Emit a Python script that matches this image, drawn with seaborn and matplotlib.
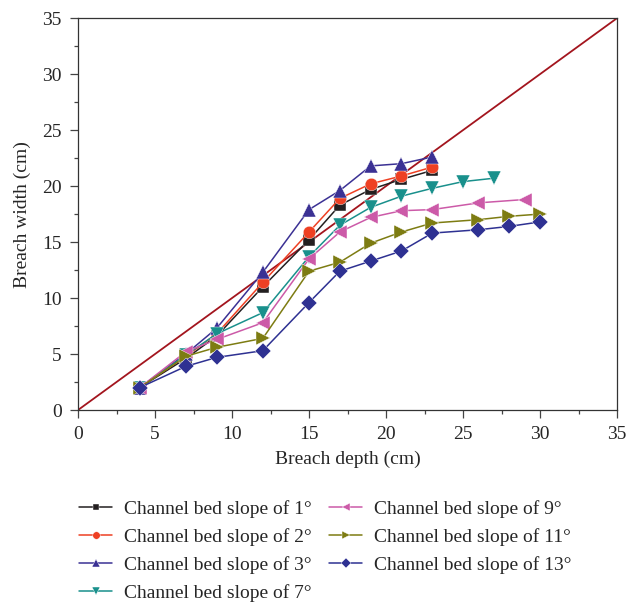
import seaborn as sns
import numpy as np
import pandas as pd
import matplotlib.pyplot as plt
from matplotlib.ticker import MultipleLocator

# Breach width vs breach depth for different channel bed slopes
depth_short = [4, 7, 9, 12, 15, 17, 19, 21, 23]
depth_7 = [4, 7, 9, 12, 15, 17, 19, 21, 23, 25, 27]
depth_9 = [4, 7, 9, 12, 15, 17, 19, 21, 23, 26, 29]
depth_long = [4, 7, 9, 12, 15, 17, 19, 21, 23, 26, 28, 30]

width_1 = [2.0, 4.6, 6.6, 11.0, 15.2, 18.3, 19.7, 20.6, 21.4]
width_2 = [2.0, 4.8, 6.8, 11.4, 15.9, 18.9, 20.2, 20.9, 21.7]
width_3 = [2.0, 5.0, 7.3, 12.3, 17.9, 19.6, 21.8, 22.0, 22.6]
width_7 = [2.0, 4.9, 6.8, 8.7, 13.7, 16.5, 18.1, 19.1, 19.8, 20.4, 20.7]
width_9 = [2.0, 5.2, 6.3, 7.8, 13.5, 15.9, 17.2, 17.8, 17.9, 18.5, 18.8]
width_11 = [2.0, 4.8, 5.6, 6.4, 12.4, 13.2, 14.9, 15.9, 16.7, 17.0, 17.3, 17.5]
width_13 = [2.0, 3.9, 4.7, 5.3, 9.6, 12.4, 13.3, 14.2, 15.8, 16.1, 16.4, 16.8]

labels = ['Channel bed slope of 1°', 'Channel bed slope of 2°', 'Channel bed slope of 3°',
          'Channel bed slope of 7°', 'Channel bed slope of 9°', 'Channel bed slope of 11°',
          'Channel bed slope of 13°']
colors = ['#231f20', '#ee4023', '#3b3194', '#19908c', '#cc5aa8', '#7d7c12', '#2e3192']
markers = ['s', 'o', '^', 'v', '<', '>', 'D']
msizes = [8, 9, 10.5, 10.5, 10.5, 10.5, 8.5]

depths = [depth_short, depth_short, depth_short, depth_7, depth_9, depth_long, depth_long]
widths = [width_1, width_2, width_3, width_7, width_9, width_11, width_13]

sns.set_style('ticks')
plt.rcParams['font.family'] = ['Liberation Serif', 'DejaVu Serif']

fig = plt.figure(figsize=(6.31, 6.03), dpi=100)
ax = fig.add_axes([0.1236, 0.320, 0.8544, 0.650])

# reference line y = x
ax.plot([0, 35], [0, 35], color='#a3151e', lw=1.3, zorder=1)

for d, w, lab, c, m, ms in zip(depths, widths, labels, colors, markers, msizes):
    df = pd.DataFrame({'depth': d, 'width': w})
    sns.lineplot(data=df, x='depth', y='width', color=c, marker=m, markersize=ms,
                 markeredgewidth=0.3, markeredgecolor='white', linewidth=1.1,
                 label=lab, ax=ax, zorder=3)

ax.set_xlim(0, 35)
ax.set_ylim(0, 35)
ax.xaxis.set_major_locator(MultipleLocator(5))
ax.yaxis.set_major_locator(MultipleLocator(5))
ax.xaxis.set_minor_locator(MultipleLocator(2.5))
ax.yaxis.set_minor_locator(MultipleLocator(2.5))
ax.tick_params(which='major', direction='out', length=5.8, width=0.9, labelsize=14,
               color='#444444', pad=6)
ax.tick_params(which='minor', direction='out', length=3, width=0.9, color='#444444')
for s in ax.spines.values():
    s.set_linewidth(0.9)
    s.set_color('#333333')

ax.set_xlabel('Breach depth (cm)', fontsize=14, labelpad=5)
ax.set_ylabel('Breach width (cm)', fontsize=14, labelpad=8)

handles, lbls = ax.get_legend_handles_labels()
ax.legend(handles, lbls, ncol=2, loc='upper left', bbox_to_anchor=(-0.03, -0.185),
          frameon=False, fontsize=14, handlelength=1.7, columnspacing=0.9,
          labelspacing=0.52, handletextpad=0.6, markerscale=0.6)

plt.savefig('out.png', dpi=100)
